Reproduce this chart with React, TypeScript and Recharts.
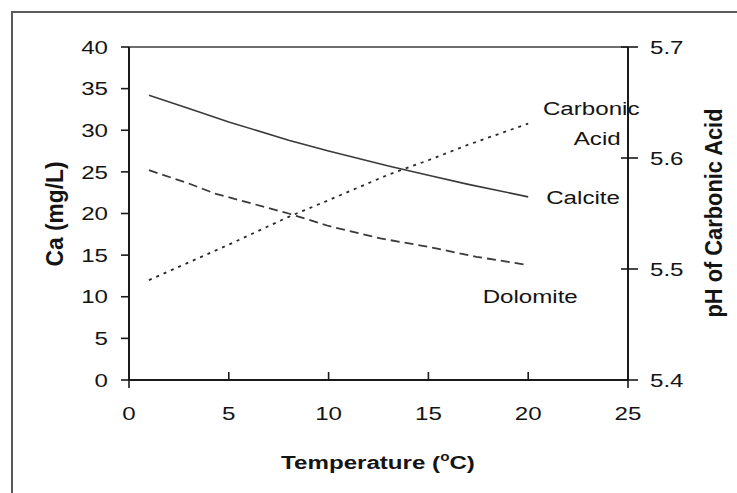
import React from 'react';
import { LineChart, Line, XAxis, YAxis, ReferenceLine, Label } from 'recharts';

const calciteT = [1, 3, 5, 8, 10, 13, 15, 17, 20];
const calciteCa = [34.2, 32.6, 31.0, 28.8, 27.5, 25.7, 24.6, 23.5, 22.0];
const dolomiteT = [1, 3, 4.3, 6, 8, 10, 12.6, 15, 17.4, 20];
const dolomiteCa = [25.2, 23.6, 22.4, 21.3, 20.0, 18.5, 17.0, 16.0, 14.8, 13.8];
const acidT = [1, 3, 5, 8, 10, 13, 15, 17, 20];
const acidPH = [5.49, 5.506, 5.522, 5.547, 5.562, 5.585, 5.598, 5.612, 5.631];

const xTicks = [0, 5, 10, 15, 20, 25];
const leftTicks = [0, 5, 10, 15, 20, 25, 30, 35, 40];
const rightTicks = [5.4, 5.5, 5.6, 5.7];

const xTitle = 'Temperature (';
const leftTitle = 'Ca (mg/L)';
const rightTitle = 'pH of Carbonic Acid';

const calciteData = calciteT.map((t, i) => ({ t, v: calciteCa[i] }));
const dolomiteData = dolomiteT.map((t, i) => ({ t, v: dolomiteCa[i] }));
const acidData = acidT.map((t, i) => ({ t, v: acidPH[i] }));

const FONT = '"Liberation Sans", Arial, sans-serif';
const SX = 1.27;
const INK = '#141414';
const AXIS = '#1a1a1a';

function SText(props: any) {
  const { x, y, anchor = 'middle', bold = false, size = 19, children } = props;
  return (
    <g transform={`translate(${x},${y}) scale(${SX},1)`}>
      <text x={0} y={0} dy="0.35em" textAnchor={anchor} fontSize={size} fontWeight={bold ? 'bold' : 'normal'} fill={INK} fontFamily={FONT}>
        {children}
      </text>
    </g>
  );
}

function RText(props: any) {
  const { x, y, len = 1.15, children } = props;
  return (
    <g transform={`translate(${x},${y}) scale(${SX},1) rotate(-90) scale(${len},1)`}>
      <text x={0} y={0} dy="0.35em" textAnchor="middle" fontSize={19} fontWeight="bold" fill={INK} fontFamily={FONT}>
        {children}
      </text>
    </g>
  );
}

function LeftTick(props: any) {
  const { x, y, payload } = props;
  return (
    <g>
      <line x1={x - 8} y1={y} x2={x} y2={y} stroke={AXIS} strokeWidth={1.6} />
      <SText x={x - 21} y={y} anchor="end">{String(payload.value)}</SText>
    </g>
  );
}

function RightTick(props: any) {
  const { x, y, payload } = props;
  return (
    <g>
      <line x1={x - 7} y1={y} x2={x + 10} y2={y} stroke={AXIS} strokeWidth={1.6} />
      <SText x={x + 22} y={y} anchor="start">{Number(payload.value).toFixed(1)}</SText>
    </g>
  );
}

function XTick(props: any) {
  const { x, y, payload, index } = props;
  const end = index === 0 || index === xTicks.length - 1;
  return (
    <g>
      <line x1={x} y1={y} x2={x} y2={end ? y + 8 : y - 8} stroke={AXIS} strokeWidth={1.6} />
      <SText x={x} y={y + 33}>{String(payload.value)}</SText>
    </g>
  );
}

const lastLabel = (n: number, render: (x: number, y: number) => React.ReactNode) => (props: any) => {
  const { x, y, index } = props;
  if (index !== n - 1) return <g key={`e${index}`} />;
  return <g key={`l${index}`}>{render(x, y)}</g>;
};

export default function App() {
  return (
    <div style={{ position: 'absolute', left: 0, top: 0, width: 737, height: 493, overflow: 'hidden', background: '#fff' }}>
      <div style={{ position: 'absolute', left: 11, top: 11, width: 800, height: 600, border: '2px solid #5a5a5a', boxSizing: 'border-box' }} />
      <div style={{ position: 'absolute', left: 0, top: 0 }}>
        <LineChart width={737} height={493} margin={{ top: 47, right: 0, bottom: 0, left: 0 }}>
          <XAxis
            dataKey="t"
            type="number"
            domain={[0, 25]}
            ticks={xTicks}
            allowDuplicatedCategory={false}
            height={113}
            tickSize={0}
            tickMargin={0}
            tickLine={false}
            axisLine={{ stroke: AXIS, strokeWidth: 2 }}
            tick={<XTick />}
            interval={0}
          >
            <Label
              content={() => (
                <g>
                  <g transform={`translate(378,462) scale(${SX},1)`}>
                    <text x={0} y={0} dy="0.35em" textAnchor="middle" fontSize={19} fontWeight="bold" fill={INK} fontFamily={FONT}>
                      {xTitle}
                      <tspan fontSize={12} dy={-8}>o</tspan>
                      <tspan dy={8}>C)</tspan>
                    </text>
                  </g>
                </g>
              )}
            />
          </XAxis>
          <YAxis
            yAxisId="left"
            orientation="left"
            domain={[0, 40]}
            ticks={leftTicks}
            width={129}
            tickSize={0}
            tickMargin={0}
            tickLine={false}
            axisLine={{ stroke: AXIS, strokeWidth: 2 }}
            tick={<LeftTick />}
            interval={0}
          >
            <Label content={() => <RText x={55} y={214} len={1.2}>{leftTitle}</RText>} />
          </YAxis>
          <YAxis
            yAxisId="right"
            orientation="right"
            domain={[5.4, 5.7]}
            ticks={rightTicks}
            width={109}
            tickSize={0}
            tickMargin={0}
            tickLine={false}
            axisLine={{ stroke: AXIS, strokeWidth: 2 }}
            tick={<RightTick />}
            interval={0}
          >
            <Label content={() => <RText x={714} y={213} len={1.15}>{rightTitle}</RText>} />
          </YAxis>
          <ReferenceLine yAxisId="left" y={40} stroke="#6e6e6e" strokeWidth={2} />
          <Line
            yAxisId="left"
            data={calciteData}
            dataKey="v"
            type="linear"
            stroke="#3a3a3a"
            strokeWidth={1.6}
            dot={false}
            isAnimationActive={false}
            label={lastLabel(calciteData.length, (x, y) => (
              <SText x={x + 18} y={y} anchor="start">Calcite</SText>
            ))}
          />
          <Line
            yAxisId="left"
            data={dolomiteData}
            dataKey="v"
            type="linear"
            stroke="#3a3a3a"
            strokeWidth={1.8}
            strokeDasharray="9 5"
            dot={false}
            isAnimationActive={false}
            label={lastLabel(dolomiteData.length, (x, y) => (
              <SText x={x + 2} y={y + 31} anchor="middle">Dolomite</SText>
            ))}
          />
          <Line
            yAxisId="right"
            data={acidData}
            dataKey="v"
            type="linear"
            stroke="#2a2a2a"
            strokeWidth={1.8}
            strokeDasharray="3 5"
            dot={false}
            isAnimationActive={false}
            label={lastLabel(acidData.length, (x, y) => (
              <g>
                <SText x={x + 63} y={y - 15} anchor="middle">Carbonic</SText>
                <SText x={x + 69} y={y + 15} anchor="middle">Acid</SText>
              </g>
            ))}
          />
        </LineChart>
      </div>
    </div>
  );
}
